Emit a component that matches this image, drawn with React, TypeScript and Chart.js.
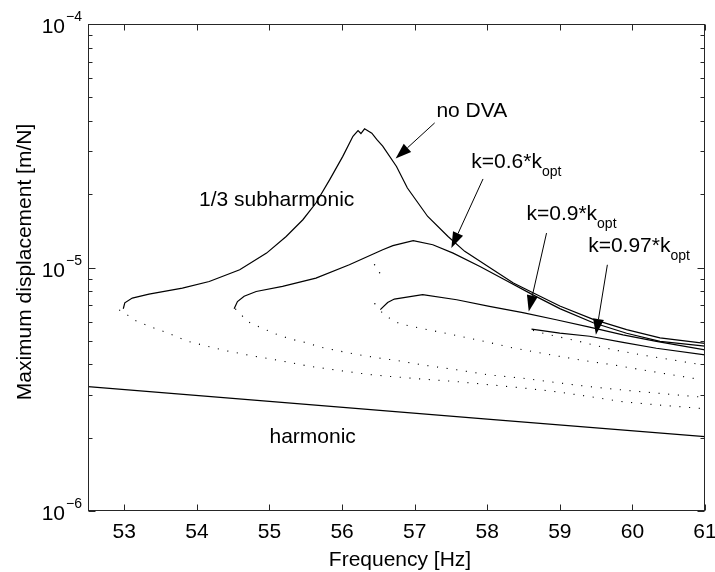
import React, { useEffect, useRef } from 'react';
import { Chart, registerables } from 'chart.js';

Chart.register(...registerables);

// ---- tick values ----
const xTicks = [53, 54, 55, 56, 57, 58, 59, 60, 61];
const yDecades = [-6, -5, -4];

// ---- series: no DVA (stable branch) ----
const noDvaFreq = [52.986, 53.007, 53.11, 53.34, 53.8, 54.17, 54.59, 54.96, 55.23, 55.46, 55.64, 55.83, 56.01, 56.15, 56.22, 56.26, 56.31, 56.41, 56.48, 56.56, 56.75, 56.9, 57.18, 57.46, 57.69, 58.08, 58.36, 58.63, 59.0, 59.46, 59.92, 60.38, 61.0];
const noDvaDisp = [6.77e-6, 7.16e-6, 7.49e-6, 7.78e-6, 8.23e-6, 8.76e-6, 9.79e-6, 1.146e-5, 1.341e-5, 1.571e-5, 1.84e-5, 2.295e-5, 2.86e-5, 3.46e-5, 3.65e-5, 3.55e-5, 3.71e-5, 3.56e-5, 3.35e-5, 3.15e-5, 2.6e-5, 2.12e-5, 1.62e-5, 1.34e-5, 1.165e-5, 9.79e-6, 8.63e-6, 7.88e-6, 6.95e-6, 6.12e-6, 5.56e-6, 5.14e-6, 4.88e-6];

// ---- k = 0.6 kopt ----
const k06Freq = [54.513, 54.559, 54.651, 54.817, 55.18, 55.64, 56.1, 56.56, 56.7, 56.98, 57.25, 57.53, 57.9, 58.26, 58.63, 59.0, 59.46, 59.92, 60.38, 61.0];
const k06Disp = [6.77e-6, 7.25e-6, 7.62e-6, 7.97e-6, 8.36e-6, 9.05e-6, 1.026e-5, 1.183e-5, 1.229e-5, 1.288e-5, 1.24e-5, 1.146e-5, 1.01e-5, 8.85e-6, 7.72e-6, 6.78e-6, 5.93e-6, 5.37e-6, 4.97e-6, 4.75e-6];

// ---- k = 0.9 kopt ----
const k09Freq = [56.527, 56.628, 56.72, 57.11, 57.58, 58.03, 58.49, 58.95, 59.41, 59.87, 60.33, 61.0];
const k09Disp = [6.71e-6, 7.18e-6, 7.42e-6, 7.73e-6, 7.37e-6, 6.92e-6, 6.53e-6, 6.1e-6, 5.69e-6, 5.29e-6, 4.97e-6, 4.59e-6];

// ---- k = 0.97 kopt ----
const k097Freq = [58.61, 59.0, 59.41, 59.87, 60.33, 61.0];
const k097Disp = [5.58e-6, 5.38e-6, 5.22e-6, 4.93e-6, 4.66e-6, 4.38e-6];

// ---- unstable (dotted) branches ----
const dotNoDvaFreq = [52.93, 53.03, 53.15, 53.36, 53.61, 53.86, 54.13, 54.39, 54.74, 55.14, 55.55, 55.95, 56.36, 56.66, 57.11, 57.58, 58.03, 58.49, 58.95, 59.41, 59.87, 60.33, 60.93];
const dotNoDvaDisp = [6.7e-6, 6.42e-6, 6.06e-6, 5.71e-6, 5.37e-6, 4.99e-6, 4.76e-6, 4.56e-6, 4.35e-6, 4.15e-6, 3.93e-6, 3.78e-6, 3.64e-6, 3.57e-6, 3.48e-6, 3.4e-6, 3.3e-6, 3.2e-6, 3.09e-6, 2.95e-6, 2.81e-6, 2.73e-6, 2.64e-6];

const dotK06Freq = [54.53, 54.6, 54.69, 54.81, 54.94, 55.06, 55.19, 55.32, 55.46, 55.72, 56.04, 56.31, 56.59, 56.72, 57.11, 57.58, 58.03, 58.49, 58.95, 59.41, 59.87, 60.33, 60.93];
const dotK06Disp = [6.77e-6, 6.45e-6, 6.02e-6, 5.78e-6, 5.57e-6, 5.37e-6, 5.2e-6, 5.06e-6, 4.95e-6, 4.7e-6, 4.49e-6, 4.34e-6, 4.21e-6, 4.17e-6, 3.98e-6, 3.8e-6, 3.62e-6, 3.51e-6, 3.37e-6, 3.24e-6, 3.14e-6, 3.05e-6, 2.94e-6];

const dotK09Freq = [56.54, 56.66, 56.79, 57.07, 57.44, 57.9, 58.36, 58.82, 59.28, 59.74, 60.2, 60.93];
const dotK09Disp = [6.58e-6, 6.17e-6, 5.88e-6, 5.64e-6, 5.36e-6, 5.02e-6, 4.67e-6, 4.41e-6, 4.17e-6, 3.98e-6, 3.77e-6, 3.47e-6];

const dotK097Freq = [58.63, 58.77, 59.28, 59.74, 60.2, 60.93];
const dotK097Disp = [5.52e-6, 5.37e-6, 4.96e-6, 4.59e-6, 4.34e-6, 4.0e-6];

const strayFreq = [56.448, 56.517, 56.452];
const strayDisp = [1.026e-5, 9.52e-6, 7.1e-6];

// ---- harmonic response ----
const harmFreq = [52.5, 55, 58, 61];
const harmDisp = [3.24e-6, 2.82e-6, 2.386e-6, 2.02e-6];

// ---- annotations (data coordinates) ----
const textLabels = [
  { text: 'no DVA', sub: '', x: 57.3, y: 4.165e-5 },
  { text: '1/3 subharmonic', sub: '', x: 54.03, y: 1.794e-5 },
  { text: 'harmonic', sub: '', x: 55.0, y: 1.904e-6 },
  { text: 'k=0.6*k', sub: 'opt', x: 57.78, y: 2.563e-5 },
  { text: 'k=0.9*k', sub: 'opt', x: 58.54, y: 1.571e-5 },
  { text: 'k=0.97*k', sub: 'opt', x: 59.39, y: 1.16e-5 },
];
const arrowFrom = [[57.276, 3.925e-5], [57.942, 2.31e-5], [58.817, 1.385e-5], [59.655, 1.026e-5]];
const arrowTo = [[56.738, 2.8e-5], [57.506, 1.202e-5], [58.572, 6.6e-6], [59.497, 5.29e-6]];

const FONT = '"Liberation Sans", Arial, Helvetica, sans-serif';

const zip = (xs: number[], ys: number[]) => xs.map((x, i) => ({ x, y: ys[i] }));

const solid = (data: { x: number; y: number }[]) => ({
  data,
  borderColor: '#000',
  borderWidth: 1.2,
  pointRadius: 0,
  fill: false,
  tension: 0,
});
const dotted = (data: { x: number; y: number }[]) => ({
  data,
  borderColor: '#000',
  borderWidth: 1.1,
  borderDash: [1.1, 8.6],
  pointRadius: 0,
  fill: false,
  tension: 0,
});

const overlay = {
  id: 'overlay',
  afterDraw(chart: any) {
    const { ctx, chartArea: a, scales } = chart;
    const xs = scales.x;
    const ys = scales.y;
    ctx.save();
    const L = Math.round(a.left) + 0.5;
    const R = Math.round(a.right) - 0.5;
    const T = Math.round(a.top) + 0.5;
    const B = Math.round(a.bottom) - 0.5;
    ctx.strokeStyle = '#262626';
    ctx.lineWidth = 1;
    ctx.strokeRect(L, T, R - L, B - T);
    ctx.beginPath();
    xTicks.forEach((v) => {
      const px = Math.round(xs.getPixelForValue(v)) + 0.5;
      ctx.moveTo(px, B);
      ctx.lineTo(px, B - 6);
      ctx.moveTo(px, T);
      ctx.lineTo(px, T + 6);
    });
    yDecades.slice(0, -1).forEach((d) => {
      for (let m = 1; m <= 9; m++) {
        const py = Math.round(ys.getPixelForValue(m * Math.pow(10, d))) + 0.5;
        const len = m === 1 ? 7 : 4;
        ctx.moveTo(L, py);
        ctx.lineTo(L + len, py);
        ctx.moveTo(R, py);
        ctx.lineTo(R - len, py);
      }
    });
    ctx.stroke();

    ctx.fillStyle = '#000';
    ctx.textBaseline = 'alphabetic';
    // x tick labels
    ctx.font = `21px ${FONT}`;
    ctx.textAlign = 'center';
    xTicks.forEach((v) => ctx.fillText(String(v), xs.getPixelForValue(v), a.bottom + 27));
    // y tick labels
    yDecades.forEach((d) => {
      const py = ys.getPixelForValue(Math.pow(10, d));
      ctx.font = `21px ${FONT}`;
      ctx.textAlign = 'right';
      ctx.fillText('10', a.left - 23, py + 9);
      ctx.font = `14px ${FONT}`;
      ctx.textAlign = 'left';
      ctx.fillText('\u2212' + Math.abs(d), a.left - 22, py - 3);
    });
    // axis titles
    ctx.font = `21px ${FONT}`;
    ctx.textAlign = 'center';
    ctx.fillText('Frequency [Hz]', 400, a.bottom + 55);
    ctx.save();
    ctx.translate(31, 262);
    ctx.rotate(-Math.PI / 2);
    ctx.fillText('Maximum displacement [m/N]', 0, 0);
    ctx.restore();

    // text annotations
    textLabels.forEach((t) => {
      const px = xs.getPixelForValue(t.x);
      const py = ys.getPixelForValue(t.y);
      ctx.font = `21px ${FONT}`;
      ctx.textAlign = 'left';
      ctx.fillText(t.text, px, py);
      if (t.sub) {
        const w = ctx.measureText(t.text).width;
        ctx.font = `14px ${FONT}`;
        ctx.fillText(t.sub, px + w, py + 8);
      }
    });

    // arrows
    arrowFrom.forEach((f, i) => {
      const x0 = xs.getPixelForValue(f[0]);
      const y0 = ys.getPixelForValue(f[1]);
      const x1 = xs.getPixelForValue(arrowTo[i][0]);
      const y1 = ys.getPixelForValue(arrowTo[i][1]);
      const dx = x1 - x0;
      const dy = y1 - y0;
      const len = Math.hypot(dx, dy);
      const ux = dx / len;
      const uy = dy / len;
      const hl = 16;
      const hw = 5.5;
      const bx = x1 - ux * hl;
      const by = y1 - uy * hl;
      ctx.strokeStyle = '#000';
      ctx.lineWidth = 1;
      ctx.beginPath();
      ctx.moveTo(x0, y0);
      ctx.lineTo(bx, by);
      ctx.stroke();
      ctx.beginPath();
      ctx.moveTo(x1, y1);
      ctx.lineTo(bx - uy * hw, by + ux * hw);
      ctx.lineTo(bx + uy * hw, by - ux * hw);
      ctx.closePath();
      ctx.fill();
    });
    ctx.restore();
  },
};

export default function App() {
  const ref = useRef<HTMLCanvasElement>(null);
  useEffect(() => {
    document.body.style.margin = '0';
    const chart = new Chart(ref.current as HTMLCanvasElement, {
      type: 'line',
      data: {
        datasets: [
          solid(zip(noDvaFreq, noDvaDisp)),
          solid(zip(k06Freq, k06Disp)),
          solid(zip(k09Freq, k09Disp)),
          solid(zip(k097Freq, k097Disp)),
          solid(zip(harmFreq, harmDisp)),
          dotted(zip(dotNoDvaFreq, dotNoDvaDisp)),
          dotted(zip(dotK06Freq, dotK06Disp)),
          dotted(zip(dotK09Freq, dotK09Disp)),
          dotted(zip(dotK097Freq, dotK097Disp)),
          {
            data: zip(strayFreq, strayDisp),
            showLine: false,
            pointRadius: 0.7,
            pointBorderWidth: 0,
            pointBackgroundColor: '#000',
          },
        ] as any,
      },
      options: {
        animation: false,
        responsive: false,
        devicePixelRatio: 1,
        layout: { padding: { left: 88, top: 24, right: 10, bottom: 61 } },
        scales: {
          x: { type: 'linear', min: 52.5, max: 61, display: false },
          y: { type: 'logarithmic', min: 1e-6, max: 1e-4, display: false },
        },
        plugins: { legend: { display: false }, tooltip: { enabled: false } },
      },
      plugins: [overlay],
    });
    return () => chart.destroy();
  }, []);
  return <canvas ref={ref} width={715} height={572} style={{ display: 'block' }} />;
}
